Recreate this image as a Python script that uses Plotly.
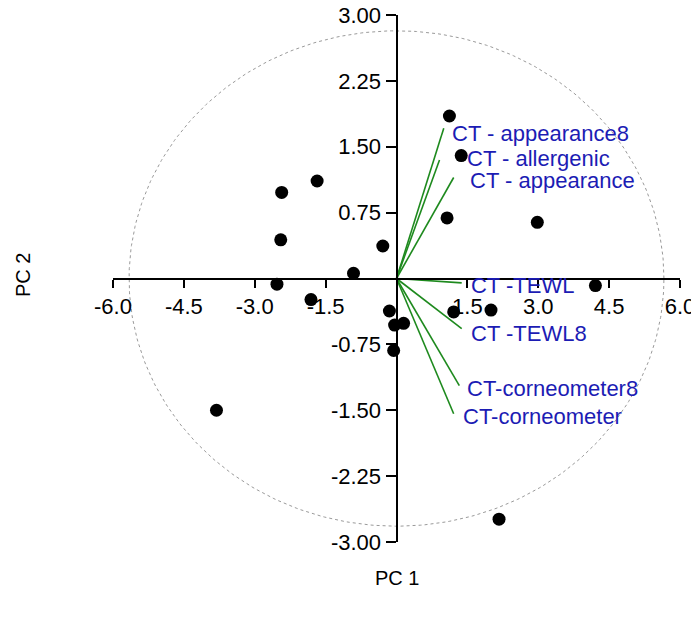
import numpy as np
import plotly.graph_objects as go

# PC scores (observations)
pc1 = [-2.43, -1.68, -2.45, -0.29, -0.91, -2.53, -1.81, -0.15, -0.04, 0.15,
       -0.06, -3.81, 1.12, 1.37, 1.07, 2.98, 4.21, 1.21, 2.00, 2.17]
pc2 = [0.98, 1.11, 0.44, 0.37, 0.06, -0.065, -0.24, -0.37, -0.53, -0.51,
       -0.82, -1.50, 1.85, 1.40, 0.69, 0.64, -0.08, -0.38, -0.36, -2.74]

# loadings (scaled) and their labels
var_names = ["CT - appearance8", "CT - allergenic", "CT - appearance", "CT -TEWL",
             "CT -TEWL8", "CT-corneometer8", "CT-corneometer"]
load_x = [1.00, 0.91, 1.21, 1.38, 1.38, 1.33, 1.21]
load_y = [1.71, 1.35, 1.15, -0.05, -0.57, -1.22, -1.54]
label_x = [1.14, 1.45, 1.52, 1.54, 1.54, 1.45, 1.36]
label_y = [1.65, 1.37, 1.12, -0.08, -0.63, -1.25, -1.57]

xticks = [-6.0, -4.5, -3.0, -1.5, 1.5, 3.0, 4.5, 6.0]
yticks = [3.00, 2.25, 1.50, 0.75, -0.75, -1.50, -2.25, -3.00]

# correlation circle radii in axis units
rad_x, rad_y = 5.66, 2.82

font = "Arial, Liberation Sans, sans-serif"
fig = go.Figure()

t = np.linspace(0, 2 * np.pi, 400)
fig.add_trace(go.Scatter(x=rad_x * np.cos(t), y=rad_y * np.sin(t), mode="lines",
                         line=dict(color="#9a9a9a", width=1, dash="dot"),
                         hoverinfo="skip"))

for lx, ly in zip(load_x, load_y):
    fig.add_trace(go.Scatter(x=[0, lx], y=[0, ly], mode="lines",
                             line=dict(color="#1e8a1e", width=1.6)))

fig.add_trace(go.Scatter(x=pc1, y=pc2, mode="markers",
                         marker=dict(color="black", size=13)))

for name, tx, ty in zip(var_names, label_x, label_y):
    fig.add_annotation(x=tx, y=ty, text=name, showarrow=False, xanchor="left",
                       yanchor="middle", font=dict(family=font, size=22, color="#1c1cb4"))

# page has an 8px body margin, so the figure is shifted by that much
off = 8
W, H = 699, 621
L, R, T, B = 113 - off, 19 + off, 15 - off, 79 + off
pw, ph = W - L - R, H - T - B
fig.add_annotation(text="PC 2", x=(23 - off - L) / pw, y=(H - B - (275 - off)) / ph,
                   xref="paper", yref="paper", showarrow=False, textangle=-90,
                   xanchor="center", yanchor="middle",
                   font=dict(family=font, size=20, color="black"))
fig.add_annotation(text="PC 1", x=(397 - off - L) / pw, y=(H - B - (578 - off)) / ph,
                   xref="paper", yref="paper", showarrow=False,
                   xanchor="center", yanchor="middle",
                   font=dict(family=font, size=20, color="black"))

fig.update_layout(
    width=W, height=H,
    margin=dict(l=L, r=R, t=T, b=B, autoexpand=False),
    plot_bgcolor="white", paper_bgcolor="white",
    showlegend=False,
    xaxis=dict(range=[-6, 6], anchor="free", position=0.5, showgrid=False, zeroline=False,
               automargin=False, ticklabeloverflow="allow",
               showline=True, linecolor="black", linewidth=2, ticks="outside", ticklen=8,
               tickwidth=2, tickcolor="black", tickvals=xticks,
               ticktext=[f"{v:.1f}" for v in xticks],
               tickfont=dict(family=font, size=22, color="black")),
    yaxis=dict(range=[-3, 3], anchor="free", position=0.5, showgrid=False, zeroline=False,
               automargin=False, ticklabeloverflow="allow",
               showline=True, linecolor="black", linewidth=2, ticks="outside", ticklen=10,
               tickwidth=2, tickcolor="black", tickvals=yticks,
               ticktext=[f"{v:.2f}" for v in yticks],
               tickfont=dict(family=font, size=22, color="black")),
)

fig.write_html("out.html")
